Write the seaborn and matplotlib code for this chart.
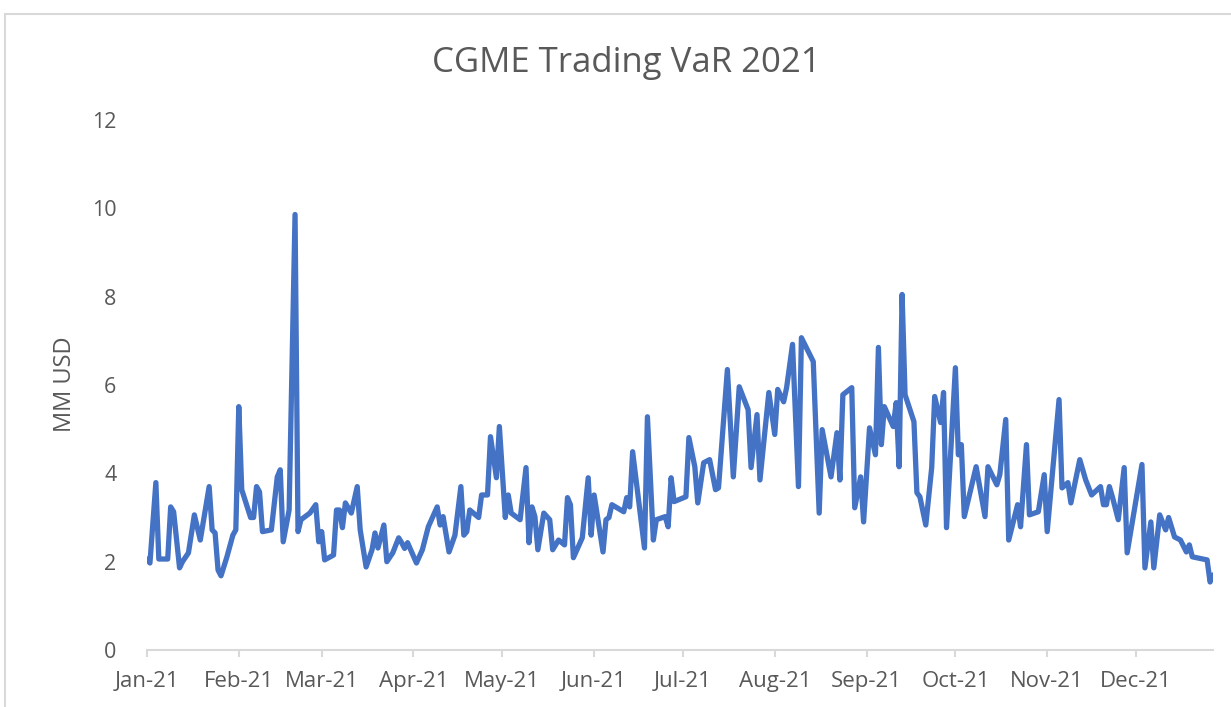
import matplotlib
matplotlib.use("Agg")
import matplotlib.pyplot as plt
import matplotlib.dates as mdates
from matplotlib.patches import Rectangle
import pandas as pd
import seaborn as sns

# daily VaR readings (MM USD)
dates = [
    "2021-01-01", "2021-01-02", "2021-01-04", "2021-01-05", "2021-01-08", "2021-01-09",
    "2021-01-10", "2021-01-12", "2021-01-13", "2021-01-15", "2021-01-17", "2021-01-19",
    "2021-01-22", "2021-01-23", "2021-01-24", "2021-01-25", "2021-01-26", "2021-01-28",
    "2021-01-30", "2021-01-31", "2021-02-01", "2021-02-02", "2021-02-05", "2021-02-06",
    "2021-02-07", "2021-02-08", "2021-02-09", "2021-02-12", "2021-02-14", "2021-02-15",
    "2021-02-16", "2021-02-18", "2021-02-20", "2021-02-21", "2021-02-22", "2021-02-25",
    "2021-02-27", "2021-02-28", "2021-03-01", "2021-03-02", "2021-03-05", "2021-03-06",
    "2021-03-07", "2021-03-08", "2021-03-09", "2021-03-11", "2021-03-13", "2021-03-14",
    "2021-03-16", "2021-03-18", "2021-03-19", "2021-03-20", "2021-03-22", "2021-03-23",
    "2021-03-25", "2021-03-27", "2021-03-28", "2021-03-29", "2021-03-30", "2021-04-02",
    "2021-04-04", "2021-04-06", "2021-04-09", "2021-04-10", "2021-04-11", "2021-04-13",
    "2021-04-15", "2021-04-17", "2021-04-18", "2021-04-19", "2021-04-20", "2021-04-23",
    "2021-04-24", "2021-04-26", "2021-04-27", "2021-04-29", "2021-04-30", "2021-05-02",
    "2021-05-03", "2021-05-04", "2021-05-07", "2021-05-09", "2021-05-10", "2021-05-11",
    "2021-05-12", "2021-05-13", "2021-05-15", "2021-05-17", "2021-05-18", "2021-05-20",
    "2021-05-22", "2021-05-23", "2021-05-24", "2021-05-25", "2021-05-28", "2021-05-30",
    "2021-05-31", "2021-06-01", "2021-06-04", "2021-06-05", "2021-06-06", "2021-06-07",
    "2021-06-11", "2021-06-12", "2021-06-13", "2021-06-14", "2021-06-18", "2021-06-19",
    "2021-06-21", "2021-06-22", "2021-06-25", "2021-06-26", "2021-06-27", "2021-06-28",
    "2021-07-02", "2021-07-03", "2021-07-05", "2021-07-06", "2021-07-08", "2021-07-10",
    "2021-07-12", "2021-07-13", "2021-07-16", "2021-07-18", "2021-07-20", "2021-07-23",
    "2021-07-24", "2021-07-26", "2021-07-27", "2021-07-30", "2021-08-01", "2021-08-02",
    "2021-08-04", "2021-08-05", "2021-08-07", "2021-08-09", "2021-08-10", "2021-08-14",
    "2021-08-16", "2021-08-17", "2021-08-20", "2021-08-22", "2021-08-23", "2021-08-24",
    "2021-08-27", "2021-08-28", "2021-08-30", "2021-08-31", "2021-09-02", "2021-09-04",
    "2021-09-05", "2021-09-06", "2021-09-07", "2021-09-10", "2021-09-11", "2021-09-12",
    "2021-09-13", "2021-09-14", "2021-09-17", "2021-09-18", "2021-09-19", "2021-09-21",
    "2021-09-23", "2021-09-24", "2021-09-26", "2021-09-27", "2021-09-28", "2021-10-01",
    "2021-10-02", "2021-10-03", "2021-10-04", "2021-10-08", "2021-10-11", "2021-10-12",
    "2021-10-15", "2021-10-16", "2021-10-18", "2021-10-19", "2021-10-22", "2021-10-23",
    "2021-10-25", "2021-10-26", "2021-10-29", "2021-10-31", "2021-11-01", "2021-11-05",
    "2021-11-06", "2021-11-08", "2021-11-09", "2021-11-12", "2021-11-14", "2021-11-16",
    "2021-11-19", "2021-11-20", "2021-11-21", "2021-11-22", "2021-11-23", "2021-11-25",
    "2021-11-27", "2021-11-28", "2021-12-03", "2021-12-04", "2021-12-06", "2021-12-07",
    "2021-12-09", "2021-12-11", "2021-12-12", "2021-12-14", "2021-12-16", "2021-12-18",
    "2021-12-19", "2021-12-20", "2021-12-25", "2021-12-26", "2021-12-27",
]
var_mm = [
    2.06, 1.97, 3.79, 2.06, 2.06, 3.24,
    3.13, 1.86, 2.00, 2.20, 3.06, 2.49,
    3.70, 2.72, 2.65, 1.81, 1.68, 2.11,
    2.60, 2.72, 5.51, 3.63, 3.00, 3.00,
    3.70, 3.58, 2.68, 2.72, 3.92, 4.08,
    2.45, 3.17, 9.86, 2.68, 2.95, 3.10,
    3.29, 2.45, 2.68, 2.04, 2.15, 3.17,
    3.17, 2.77, 3.33, 3.10, 3.70, 2.72,
    1.88, 2.27, 2.65, 2.31, 2.83, 2.00,
    2.20, 2.54, 2.43, 2.30, 2.43, 1.97,
    2.27, 2.79, 3.24, 2.83, 3.02, 2.22,
    2.60, 3.70, 2.60, 2.68, 3.17, 3.00,
    3.51, 3.51, 4.83, 3.90, 5.06, 3.00,
    3.51, 3.10, 2.95, 4.13, 2.43, 3.24,
    3.02, 2.27, 3.10, 2.95, 2.27, 2.49,
    2.38, 3.45, 3.29, 2.09, 2.54, 3.90,
    2.60, 3.51, 2.22, 2.95, 3.00, 3.29,
    3.13, 3.45, 3.24, 4.49, 2.31, 5.28,
    2.49, 2.95, 3.02, 2.79, 3.90, 3.36,
    3.47, 4.81, 4.15, 3.33, 4.24, 4.31,
    3.63, 3.67, 6.35, 3.92, 5.96, 5.44,
    4.13, 5.33, 3.85, 5.83, 4.88, 5.90,
    5.62, 5.94, 6.92, 3.70, 7.07, 6.53,
    3.10, 4.99, 3.92, 4.92, 3.85, 5.78,
    5.94, 3.22, 3.92, 2.90, 5.03, 4.42,
    6.85, 4.65, 5.51, 5.06, 5.60, 4.15,
    8.05, 5.78, 5.17, 3.56, 3.47, 2.83,
    4.13, 5.74, 5.15, 5.83, 2.77, 6.39,
    4.42, 4.65, 3.02, 4.15, 3.02, 4.15,
    3.74, 3.97, 5.22, 2.49, 3.29, 2.79,
    4.65, 3.06, 3.13, 3.97, 2.68, 5.67,
    3.67, 3.79, 3.33, 4.31, 3.85, 3.51,
    3.70, 3.29, 3.29, 3.70, 3.47, 2.95,
    4.13, 2.20, 4.20, 1.86, 2.90, 1.86,
    3.06, 2.72, 3.00, 2.56, 2.49, 2.22,
    2.38, 2.11, 2.04, 1.54, 1.70,
]

df = pd.DataFrame({"date": pd.to_datetime(dates), "var": var_mm})

sns.set_style("white")
plt.rcParams["font.family"] = ["Open Sans", "DejaVu Sans"]

grey_text = "#595959"
grey_line = "#d9d9d9"

fig = plt.figure(figsize=(12.31, 7.07), dpi=100)
ax = fig.add_axes([0.1194, 0.0806, 0.8660, 0.7497])

sns.lineplot(data=df, x="date", y="var", ax=ax, color="#4472C4", linewidth=3.8)

ax.set_xlim(df["date"].min(), df["date"].max())
ax.set_ylim(0, 12)
ax.set_yticks([0, 2, 4, 6, 8, 10, 12])

ax.xaxis.set_major_locator(mdates.MonthLocator())
ax.xaxis.set_major_formatter(mdates.DateFormatter("%b-%y"))

for side in ["top", "right", "left"]:
    ax.spines[side].set_visible(False)
ax.spines["bottom"].set_color(grey_line)
ax.spines["bottom"].set_linewidth(1.5)

ax.tick_params(axis="x", colors=grey_line, labelcolor=grey_text, labelsize=16,
               length=5, width=1.5, pad=10, direction="out", bottom=True)
ax.tick_params(axis="y", labelcolor=grey_text, labelsize=15.5, length=0, pad=22)

ax.set_xlabel("")
ax.set_ylabel("")
fig.text(65 / 1231, 1 - 384 / 707, "MM USD", rotation=90, color=grey_text,
         fontsize=17, ha="center", va="center")
fig.text(626 / 1231, 1 - 63 / 707, "CGME Trading VaR 2021", color=grey_text,
         fontsize=25, ha="center", va="center")

# chart area border
fig.patches.append(Rectangle((0.004, -0.02), 1.1, 1.0,
                             transform=fig.transFigure, fill=False,
                             edgecolor=grey_line, linewidth=1.5))

fig.savefig("out.png", dpi=100)
